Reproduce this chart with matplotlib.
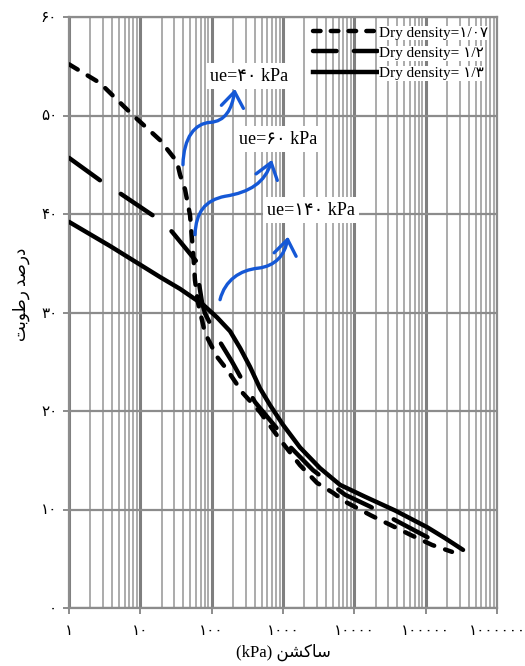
#
# Soil-water characteristic curves for three dry densities
#
import numpy as np
import matplotlib
matplotlib.use('Agg')
import matplotlib.pyplot as plt
from matplotlib.path import Path
from matplotlib.patches import FancyArrowPatch
from matplotlib.lines import Line2D
from matplotlib.ticker import LogLocator, FixedLocator, FuncFormatter, NullFormatter

plt.rcParams['font.family'] = ['Liberation Serif', 'DejaVu Sans']
#
# Data: suction (kPa) and moisture (%)
#
suction_107 = [1, 2.72, 7.94, 18.9, 32.7, 36.0, 42.3, 49.7, 54.7, 58.3, 64.3, 80.7,
               119, 164, 275, 476, 908, 1730, 3000, 5020, 7410, 17100, 32700, 62400,
               123000, 234000]
moist_107 = [55.2, 53.3, 50.0, 47.5, 45.3, 44.0, 42.5, 39.9, 36.3, 33.3, 31.0, 27.9,
             25.5, 24.2, 21.8, 19.9, 17.1, 14.5, 12.7, 11.7, 10.8, 9.4, 8.4, 7.4,
             6.4, 5.7]

suction_12 = [1, 3.0, 5.19, 16.1, 27.8, 62.4, 64.6, 73.3, 80.7, 94.8, 131, 193, 275,
              406, 851, 1000, 2630, 7410, 16600, 31600, 105000, 186000]
moist_12 = [45.7, 43.2, 42.1, 39.7, 38.2, 35.1, 33.5, 31.0, 29.9, 28.9, 27.0, 25.0,
            23.0, 20.9, 18.1, 17.1, 14.0, 11.5, 10.3, 9.2, 7.2, 6.4]

suction_13 = [1, 3.76, 18.9, 36.0, 54.7, 75.7, 119, 181, 250, 344, 476, 658, 1000,
              1730, 3300, 6310, 14100, 37200, 105000, 186000, 334000]
moist_13 = [39.2, 36.75, 33.6, 32.4, 31.5, 30.8, 29.5, 28.1, 26.4, 24.5, 22.3, 20.6,
            18.6, 16.3, 14.2, 12.5, 11.3, 9.9, 8.2, 7.1, 5.9]

labels = ['Dry density=1/07', 'Dry density= 1/2', 'Dry density= 1/3']

# air-entry annotations: label, label position, arrow (start, controls, end)
ue_labels = ['ue=40 kPa', 'ue=60 kPa', 'ue=140 kPa']
ue_text_x = [334, 851, 2470]
ue_text_y = [54.0, 47.6, 40.4]
ue_arrow_x = [[39.6, 40.5, 58.4, 94.8, 154, 193, 212],
              [58.4, 60.3, 80.7, 154, 344, 560, 701],
              [131, 154, 250, 446, 773, 1067, 1175]]
ue_arrow_y = [[45.0, 47.8, 49.2, 49.3, 49.4, 50.6, 52.7],
              [37.9, 40.2, 41.4, 41.8, 42.2, 43.2, 45.5],
              [31.3, 33.3, 34.3, 34.5, 34.7, 35.8, 37.7]]

FA_DIGITS = str.maketrans('0123456789', '۰۱۲۳۴۵۶۷۸۹')

# contextual forms for the Persian letters used in the axis titles
FORMS = {
    'ا': ('\ufe8d', '\ufe8e', None, None),
    'ب': ('\ufe8f', '\ufe90', '\ufe91', '\ufe92'),
    'ت': ('\ufe95', '\ufe96', '\ufe97', '\ufe98'),
    'د': ('\ufea9', '\ufeaa', None, None),
    'ر': ('\ufead', '\ufeae', None, None),
    'س': ('\ufeb1', '\ufeb2', '\ufeb3', '\ufeb4'),
    'ش': ('\ufeb5', '\ufeb6', '\ufeb7', '\ufeb8'),
    'ص': ('\ufeb9', '\ufeba', '\ufebb', '\ufebc'),
    'ط': ('\ufec1', '\ufec2', '\ufec3', '\ufec4'),
    'ک': ('\ufb8e', '\ufb8f', '\ufb90', '\ufb91'),
    'ن': ('\ufee5', '\ufee6', '\ufee7', '\ufee8'),
    'و': ('\ufeed', '\ufeee', None, None),
}


def shape_fa(text):
    out = []
    for i, ch in enumerate(text):
        if ch not in FORMS:
            out.append(ch)
            continue
        prev = text[i - 1] if i > 0 else ''
        nxt = text[i + 1] if i + 1 < len(text) else ''
        join_prev = prev in FORMS and FORMS[prev][2] is not None
        join_next = nxt in FORMS and FORMS[ch][2] is not None
        iso, fin, ini, med = FORMS[ch]
        if join_prev and join_next:
            out.append(med)
        elif join_prev:
            out.append(fin)
        elif join_next:
            out.append(ini)
        else:
            out.append(iso)
    return ''.join(reversed(out))


def fa(s):
    return s.translate(FA_DIGITS)

#
# Plot
#
fig = plt.figure(figsize=(5.25, 6.66), dpi=100)
ax = fig.add_axes([69/525, 1 - 608/666, 428/525, 591/666])
ax.set_xscale('log')
ax.set_xlim(1, 1e6)
ax.set_ylim(0, 60)

lw = 3.2
ax.plot(suction_107, moist_107, color='black', lw=lw, dashes=(2.3, 2.6),
        dash_capstyle='round', zorder=3)
ax.plot(suction_12, moist_12, color='black', lw=lw, dashes=(8.6, 5.6),
        dash_capstyle='round', zorder=3)
ax.plot(suction_13, moist_13, color='black', lw=lw, solid_capstyle='round',
        solid_joinstyle='round', zorder=3)

# grid
ax.xaxis.set_major_locator(LogLocator(base=10, numticks=10))
ax.xaxis.set_minor_locator(LogLocator(base=10, subs=np.arange(2, 10), numticks=20))
ax.xaxis.set_minor_formatter(NullFormatter())
ax.yaxis.set_major_locator(FixedLocator(np.arange(0, 61, 10)))
ax.grid(which='major', axis='x', color='#7f7f7f', lw=2.2, zorder=0)
ax.grid(which='major', axis='y', color='#8c8c8c', lw=1.6, zorder=0)
ax.grid(which='minor', axis='x', color='#ababab', lw=1.4, zorder=0)
for sp in ax.spines.values():
    sp.set_color('#8c8c8c')
    sp.set_linewidth(1.6)

ax.xaxis.set_major_formatter(FuncFormatter(lambda v, _: fa(str(int(round(v))))))
ax.yaxis.set_major_formatter(FuncFormatter(lambda v, _: fa(str(int(round(v))))))
ax.tick_params(which='major', direction='out', length=4.5, width=1.4, color='#8c8c8c',
               labelsize=11)
ax.tick_params(axis='x', which='major', pad=8)
ax.tick_params(axis='y', which='major', pad=4)
ax.tick_params(which='minor', length=0)

ax.set_xlabel('(kPa) ' + shape_fa('ساکشن'), fontsize=12, labelpad=4)
ax.set_ylabel(shape_fa('درصد رطوبت'), fontsize=12)
ax.yaxis.set_label_coords(-0.092, 0.53)

# legend with its own dash lengths
handles = [Line2D([], [], color='black', lw=lw, dashes=(1.7, 2.3), dash_capstyle='round'),
           Line2D([], [], color='black', lw=lw, dashes=(5.3, 3.9), dash_capstyle='round'),
           Line2D([], [], color='black', lw=lw)]
leg = ax.legend(handles, [fa(s) for s in labels], loc='upper left',
                bbox_to_anchor=((313-69)/428, 1 - 9/591),
                frameon=False, fontsize=11, handlelength=4.3, handletextpad=0.05,
                borderpad=0, borderaxespad=0, labelspacing=0.42)
for t in leg.get_texts():
    t.set_bbox(dict(facecolor='white', edgecolor='none', pad=0.5))

# air-entry labels and arrows
blue = '#1558d6'
for lab, tx, ty, axs, ays in zip(ue_labels, ue_text_x, ue_text_y, ue_arrow_x, ue_arrow_y):
    ax.text(tx, ty, fa(lab), ha='center', va='center', fontsize=13, zorder=5,
            bbox=dict(facecolor='white', edgecolor='none', pad=3))
    codes = [Path.MOVETO] + [Path.CURVE4] * 6
    arr = FancyArrowPatch(path=Path(list(zip(axs, ays)), codes),
                          arrowstyle='->,head_length=0.55,head_width=0.4',
                          mutation_scale=20, color=blue, lw=2.4,
                          transform=ax.transData, zorder=6)
    ax.add_patch(arr)

plt.savefig('out.png', dpi=100)
